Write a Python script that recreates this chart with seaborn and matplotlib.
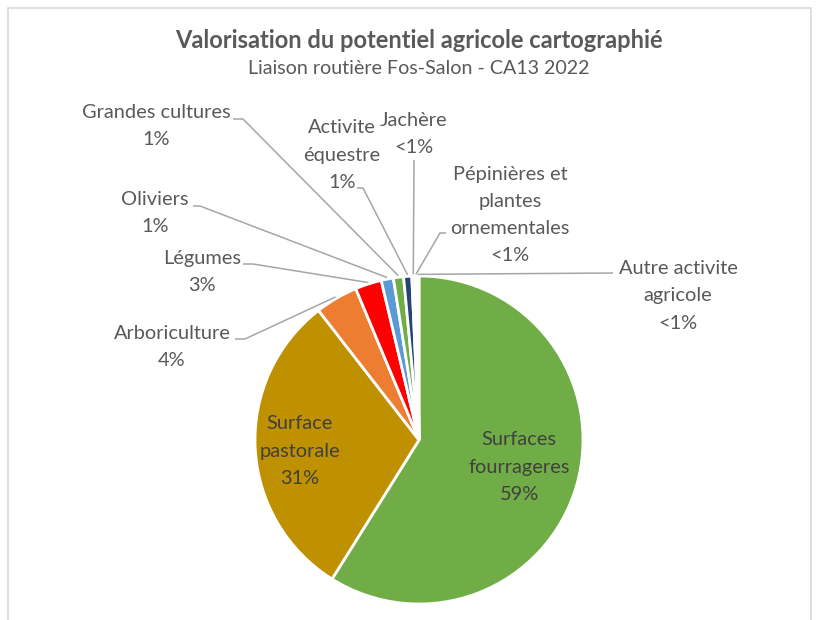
import numpy as np
import matplotlib
matplotlib.use("Agg")
import matplotlib.pyplot as plt
import seaborn as sns

# ---- data ----
categories = ["Surfaces\nfourrageres", "Surface\npastorale", "Arboriculture", "Légumes",
              "Oliviers", "Grandes cultures", "Activite\néquestre", "Jachère",
              "Pépinières et\nplantes\nornementales", "Autre activite\nagricole"]
values = [58.9, 30.6, 4.2, 2.6, 1.2, 1.0, 0.8, 0.3, 0.2, 0.2]
pct_labels = ["59%", "31%", "4%", "3%", "1%", "1%", "1%", "<1%", "<1%", "<1%"]
colors_hex = ["#70AD47", "#BF9000", "#ED7D31", "#FF0000", "#5B9BD5", "#70AD47",
              "#264478", "#F4B183", "#A5A5A5", "#FFC000"]

title = "Valorisation du potentiel agricole cartographié"
subtitle = "Liaison routière Fos-Salon - CA13 2022"

# ---- style ----
sns.set_theme(style="white")
plt.rcParams['font.family'] = ['Lato', 'DejaVu Sans']
palette = sns.color_palette(colors_hex)

W, H = 823, 620
CX, CY, R = 419, 440, 164  # pie centre / radius in pixels

fig = plt.figure(figsize=(W / 100, H / 100), dpi=100)
ax = fig.add_axes([0, 0, 1, 1])
wedges, _ = ax.pie(values, colors=palette, startangle=90, counterclock=False,
                   radius=1.0, wedgeprops=dict(edgecolor="white", linewidth=2))
ax.set_xlim(-CX / R, (W - CX) / R)
ax.set_ylim(-(H - CY) / R, CY / R)
ax.set_aspect("equal")
ax.axis("off")

def px(x, y):
    return ((x - CX) / R, (CY - y) / R)

# border of chart area
fig.patches.append(plt.Rectangle((8 / W, -0.1), (811 - 8) / W, 1.1 - 8 / H,
                                 transform=fig.transFigure, fill=False,
                                 edgecolor="#D9D9D9", linewidth=1.2))

txt_color = "#595959"
fs = 14.4
fig.text(CX / W, 1 - 40 / H, title, ha="center", va="center", fontsize=17,
         fontweight="bold", color=txt_color)
fig.text(CX / W, 1 - 68 / H, subtitle, ha="center", va="center", fontsize=14.1,
         color=txt_color)

# label layout (text centre, horizontal-tick start, elbow) in pixels
label_layout = {
    0: dict(text=(519, 467), inside=True),
    1: dict(text=(300, 451), inside=True),
    2: dict(text=(172, 347), tick=(235, 339), elbow=(245, 339)),
    3: dict(text=(202, 272), tick=(243, 264), elbow=(253, 264)),
    4: dict(text=(155, 213), tick=(193, 206), elbow=(200, 206)),
    5: dict(text=(156, 126), tick=(233, 119), elbow=(243, 119)),
    6: dict(text=(342, 155), tick=(357, 188), elbow=(363, 188)),
    7: dict(text=(414, 134), tick=None, elbow=(414, 160)),
    8: dict(text=(510, 215), tick=(446, 233), elbow=(440, 233)),
    9: dict(text=(678, 296), tick=(613, 273), elbow=(613, 273)),
}

line_color = "#A6A6A6"
LS = 1.72
for i, w in enumerate(wedges):
    lay = label_layout[i]
    label = f"{categories[i]}\n{pct_labels[i]}"
    tx, ty = px(*lay["text"])
    if lay.get("inside"):
        ax.text(tx, ty, label, ha="center", va="center", fontsize=fs,
                color="#404040", linespacing=LS, multialignment="center")
        continue
    ax.text(tx, ty, label, ha="center", va="center", fontsize=fs,
            color=txt_color, linespacing=LS, multialignment="center")
    ang = np.deg2rad((w.theta1 + w.theta2) / 2)
    ax_, ay_ = 1.01 * np.cos(ang), 1.01 * np.sin(ang)
    ex, ey = px(*lay["elbow"])
    xs, ys = [ax_, ex], [ay_, ey]
    if lay["tick"] is not None:
        kx, ky = px(*lay["tick"])
        xs.append(kx); ys.append(ky)
    ax.plot(xs, ys, color=line_color, linewidth=1.1, solid_capstyle="butt")

fig.savefig("out.png", dpi=100)
